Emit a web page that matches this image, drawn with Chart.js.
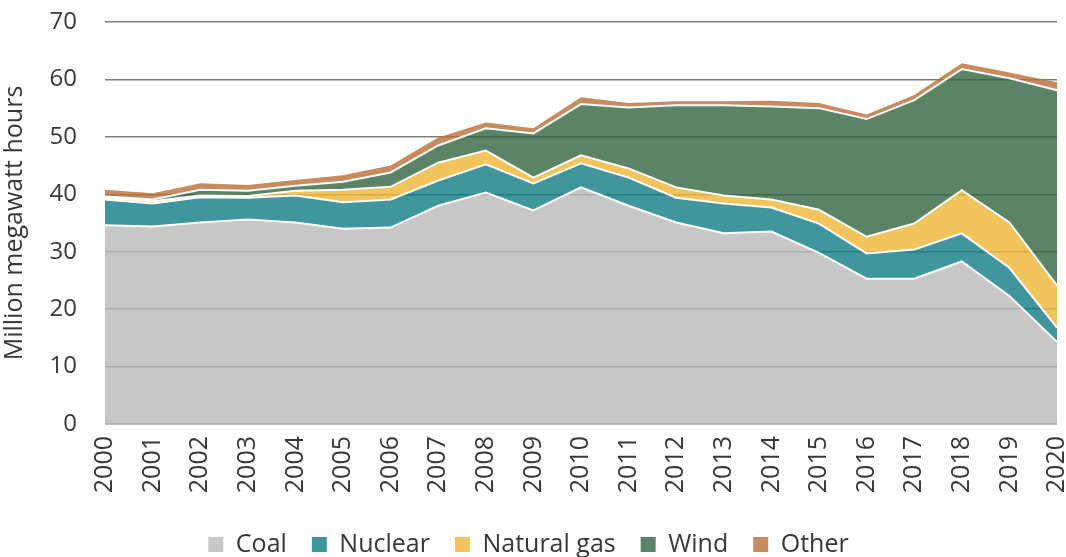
<!DOCTYPE html>
<html>
<head>
<meta charset="utf-8">
<script src="https://cdn.jsdelivr.net/npm/chart.js@4.4.1/dist/chart.umd.min.js"></script>
<style>
  html, body { margin: 0; padding: 0; background: #ffffff; }
  canvas { display: block; }
</style>
</head>
<body>
<canvas id="grafico" width="1066" height="557"></canvas>
<script>
// Datos (millones de MWh)
const anios = ['2000', '2001', '2002', '2003', '2004', '2005', '2006', '2007', '2008', '2009', '2010',
  '2011', '2012', '2013', '2014', '2015', '2016', '2017', '2018', '2019', '2020'];
const carbon =     [34.6, 34.4, 35.1, 35.6, 35.1, 34.0, 34.2, 38.0, 40.3, 37.2, 41.2, 38.0, 35.1, 33.2, 33.5, 29.8, 25.3, 25.3, 28.3, 22.3, 14.3];
const nuclear =    [ 4.5,  4.0,  4.4,  3.8,  4.7,  4.6,  4.9,  4.4,  4.9,  4.7,  4.2,  4.9,  4.3,  5.2,  4.2,  5.1,  4.4,  5.1,  4.9,  4.9,  2.5];
const gasNatural = [ 0.3,  0.4,  0.3,  0.3,  0.8,  2.2,  2.2,  3.1,  2.4,  1.0,  1.4,  1.6,  1.8,  1.4,  1.4,  2.4,  2.9,  4.5,  7.5,  7.9,  7.3];
const eolica =     [ 0.2,  0.3,  1.0,  0.9,  0.9,  1.4,  2.5,  3.0,  3.9,  7.7,  8.9, 10.6, 14.3, 15.7, 16.2, 17.7, 20.5, 21.5, 21.1, 25.1, 34.0];
const otras =      [ 1.2,  1.1,  1.1,  1.0,  1.0,  1.1,  1.2,  1.4,  1.0,  0.9,  1.2,  0.8,  0.7,  0.7,  1.0,  0.9,  0.8,  0.9,  1.0,  1.0,  1.4];
const nombresSeries = ['Coal', 'Nuclear', 'Natural gas', 'Wind', 'Other'];
const marcasY = [0, 10, 20, 30, 40, 50, 60, 70];

// Colores algo transparentes para que la cuadricula se vea a traves de las areas
const colores = [
  'rgba(184,185,184,0.8)',
  'rgba(15,124,133,0.8)',
  'rgba(239,182,51,0.8)',
  'rgba(50,101,65,0.8)',
  'rgba(188,109,54,0.8)'
];
const colorTexto = '#383838';
const fuente = "'Open Sans', 'Noto Sans', sans-serif";

function crearGrafico(canvas) {
  const series = [carbon, nuclear, gasNatural, eolica, otras];

  const conjuntos = series.map((valores, i) => ({
    label: nombresSeries[i],
    data: valores,
    backgroundColor: colores[i],
    borderColor: '#ffffff',
    borderWidth: i === series.length - 1 ? 0 : 2, // la serie de arriba sin borde blanco
    pointRadius: 0,
    tension: 0,
    fill: i === 0 ? 'origin' : '-1'
  }));

  new Chart(canvas, {
    type: 'line',
    data: { labels: anios, datasets: conjuntos },
    options: {
      responsive: false,
      animation: false,
      layout: { padding: { top: 22, right: 9, left: 0, bottom: -10 } },
      scales: {
        x: {
          grid: { display: false },
          border: { display: false },
          ticks: {
            color: colorTexto,
            font: { family: fuente, size: 25 },
            minRotation: 90,
            maxRotation: 90,
            autoSkip: false,
            padding: 4
          },
          afterFit: (escala) => {
            escala.height = 83;
            escala.paddingLeft = 0;
            escala.paddingRight = 0;
          }
        },
        y: {
          stacked: true,
          min: 0,
          max: 70,
          afterBuildTicks: (escala) => { escala.ticks = marcasY.map(v => ({ value: v })); },
          grid: { color: '#7f7f7f', lineWidth: 1.5, drawTicks: false },
          border: { display: false },
          ticks: {
            color: colorTexto,
            font: { family: fuente, size: 24 },
            padding: 28
          },
          title: {
            display: true,
            text: 'Million megawatt hours',
            color: colorTexto,
            font: { family: fuente, size: 25 },
            padding: 0
          },
          afterFit: (escala) => {
            escala.width = 105;
            escala.paddingTop = 0;
            escala.paddingBottom = 0;
          }
        }
      },
      plugins: {
        tooltip: { enabled: false },
        legend: {
          position: 'bottom',
          labels: {
            color: colorTexto,
            font: { family: fuente, size: 25 },
            boxWidth: 15,
            boxHeight: 15,
            padding: 25,
            generateLabels: (chart) => chart.data.datasets.map((ds, i) => ({
              text: ds.label,
              fillStyle: ds.backgroundColor,
              strokeStyle: ds.backgroundColor,
              lineWidth: 0,
              fontColor: colorTexto,
              hidden: false,
              datasetIndex: i
            }))
          }
        }
      }
    }
  });
}

crearGrafico(document.getElementById('grafico'));
</script>
</body>
</html>
